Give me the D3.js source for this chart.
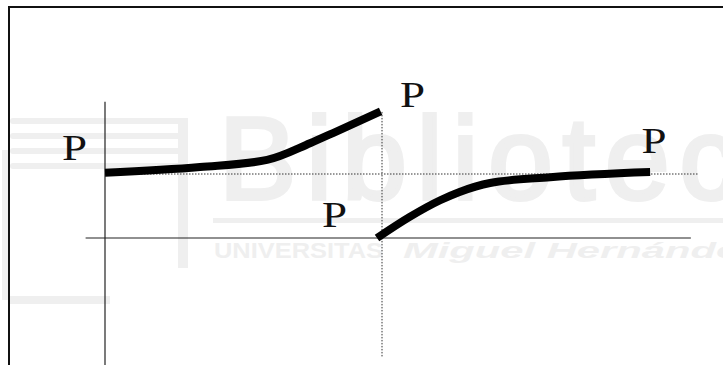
<!DOCTYPE html>
<html>
<head>
<meta charset="utf-8">
<script src="https://cdn.jsdelivr.net/npm/d3@7"></script>
<style>
  html, body { margin: 0; padding: 0; background: #fff; }
  svg { display: block; }
</style>
</head>
<body>
<svg id="chart" width="723" height="365"></svg>
<script>
// price path before the jump (t, level) and after it
var beforeT = [0, 3.43, 5.85, 7.4, 8.23, 9.95];
var beforeP = [1.02, 1.11, 1.22, 1.48, 1.64, 1.98];
var afterT = [9.82, 11.0, 12.1, 12.8, 13.9, 16.07, 19.68];
var afterP = [0.0, 0.33, 0.59, 0.72, 0.86, 0.95, 1.03];
// "P" labels
var labelText = ["P", "P", "P", "P"];
var labelT = [-1.1, 11.1, 8.29, 19.82];
var labelP = [1.22, 2.05, 0.17, 1.33];
var jumpT = 10, baseP = 1;

var svg = d3.select("#chart");
var x = d3.scaleLinear().domain([0, 10]).range([105, 382]);
var y = d3.scaleLinear().domain([0, 1]).range([238, 174]);

// faint watermark in the background
var wm = svg.append("g").attr("fill", "#efefef");
[118, 133, 148, 163].forEach(function(yy) {
  wm.append("rect").attr("x", 10).attr("y", yy).attr("width", 172).attr("height", 6).attr("rx", 3);
});
wm.append("rect").attr("x", 178).attr("y", 118).attr("width", 10).attr("height", 150);
wm.append("rect").attr("x", 10).attr("y", 296).attr("width", 100).attr("height", 8);
wm.append("rect").attr("x", 2).attr("y", 150).attr("width", 8).attr("height", 150);
wm.append("rect").attr("x", 213).attr("y", 218).attr("width", 520).attr("height", 5);
wm.append("text").attr("x", 219).attr("y", 199)
  .attr("font-family", "Liberation Sans, Arial, sans-serif").attr("font-size", 116)
  .attr("stroke", "#efefef").attr("stroke-width", 4)
  .attr("letter-spacing", 10).text("Biblioteca");
wm.append("text").attr("x", 214).attr("y", 258)
  .attr("font-family", "Liberation Sans, Arial, sans-serif").attr("font-size", 22)
  .attr("font-weight", "bold").attr("textLength", 169)
  .attr("lengthAdjust", "spacingAndGlyphs").text("UNIVERSITAS");
wm.append("text").attr("x", 403).attr("y", 258)
  .attr("font-family", "Liberation Sans, Arial, sans-serif").attr("font-size", 22)
  .attr("font-weight", "bold").attr("font-style", "italic")
  .attr("textLength", 357).attr("lengthAdjust", "spacingAndGlyphs").text("Miguel Hernández");

// frame
svg.append("rect").attr("x", 9).attr("y", 7).attr("width", 740).attr("height", 400)
  .attr("fill", "none").attr("stroke", "#111").attr("stroke-width", 2);

// axes
svg.append("line").attr("x1", x(-0.7)).attr("x2", x(21.15)).attr("y1", y(0)).attr("y2", y(0))
  .attr("stroke", "#222").attr("stroke-width", 1.2);
svg.append("line").attr("x1", x(0)).attr("x2", x(0)).attr("y1", y(2.13)).attr("y2", y(-2.1))
  .attr("stroke", "#222").attr("stroke-width", 1.2);

// dotted guides
svg.append("line").attr("x1", x(0)).attr("x2", x(21.4)).attr("y1", y(baseP)).attr("y2", y(baseP))
  .attr("stroke", "#333").attr("stroke-width", 1).attr("stroke-dasharray", "1.5,1.5");
svg.append("line").attr("x1", x(jumpT)).attr("x2", x(jumpT)).attr("y1", y(1.97)).attr("y2", y(-1.86))
  .attr("stroke", "#333").attr("stroke-width", 1).attr("stroke-dasharray", "1.5,1.5");

// curves
var line = d3.line().x(function(d) { return x(d[0]); }).y(function(d) { return y(d[1]); })
  .curve(d3.curveMonotoneX);
[d3.zip(beforeT, beforeP), d3.zip(afterT, afterP)].forEach(function(pts) {
  svg.append("path").attr("d", line(pts)).attr("fill", "none")
    .attr("stroke", "#000").attr("stroke-width", 8).attr("stroke-linejoin", "round");
});

// labels
labelText.forEach(function(t, i) {
  svg.append("text")
    .attr("transform", "translate(" + x(labelT[i]) + "," + y(labelP[i]) + ") scale(1.25,1)")
    .attr("text-anchor", "middle")
    .attr("font-family", "Liberation Serif, Times New Roman, serif").attr("font-size", 36)
    .attr("fill", "#111").text(t);
});
</script>
</body>
</html>
